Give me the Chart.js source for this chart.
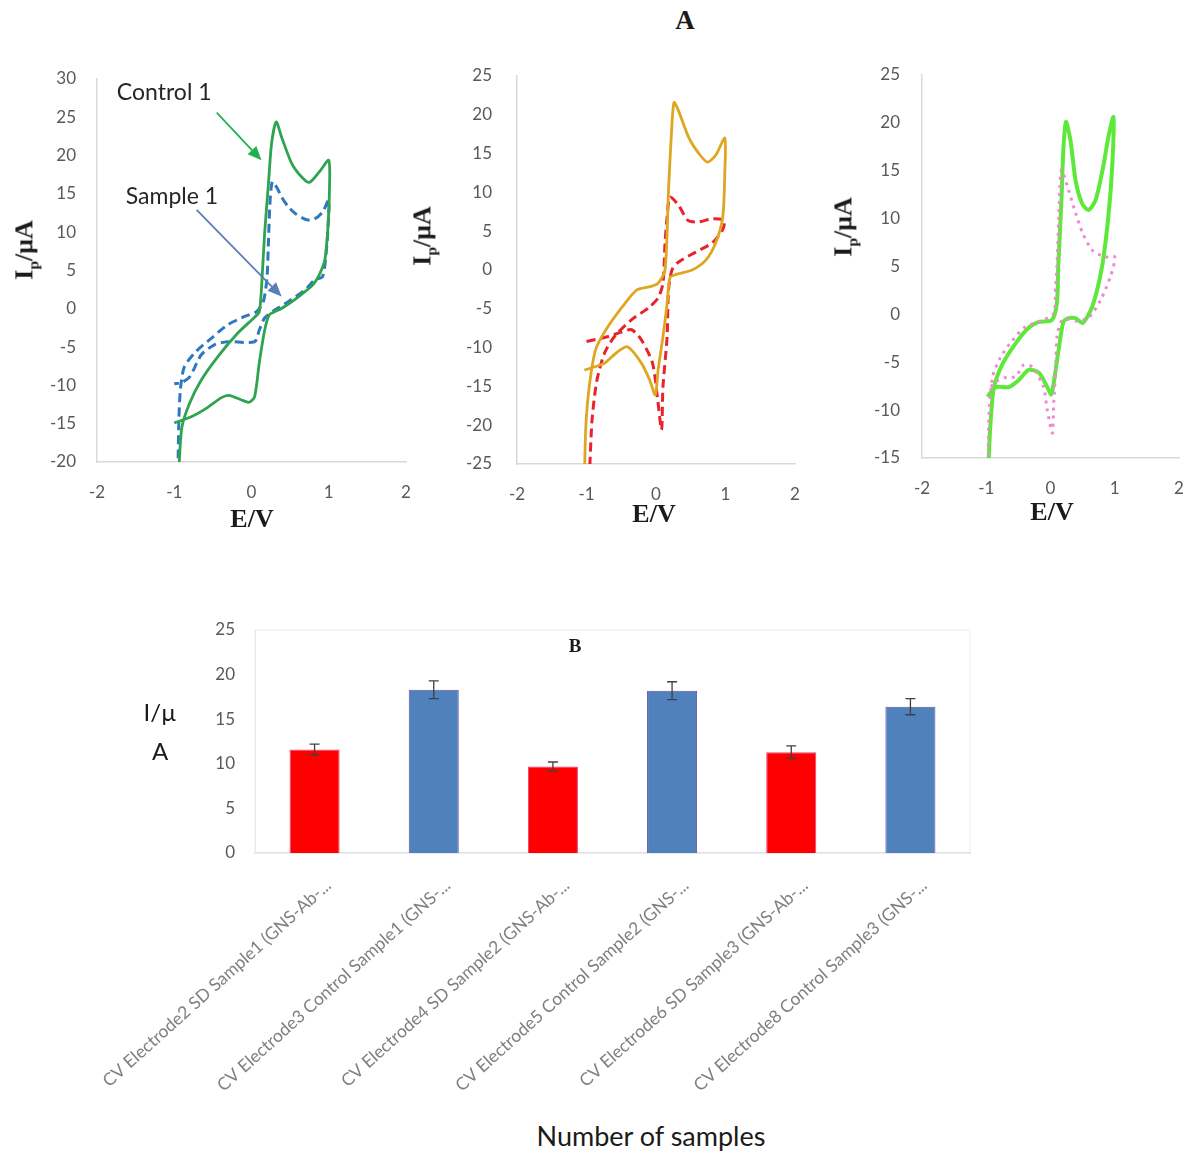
<!DOCTYPE html>
<html>
<head>
<meta charset="utf-8">
<script src="https://cdn.jsdelivr.net/npm/chart.js@4.4.1/dist/chart.umd.min.js"></script>
<style>
  body { margin: 0; background: #fff; width: 1193px; height: 1151px; position: relative; overflow: hidden; font-family: Lato, sans-serif; }
  canvas { position: absolute; }
  .lbl { position: absolute; transform: translate(-50%, -50%); white-space: nowrap; color: #1a1a1a; }
  .serif { font-family: "Liberation Serif", serif; font-weight: bold; }
  .rot { transform: translate(-50%, -50%) rotate(-90deg); }
  .rot sub { font-size: 60%; }
</style>
</head>
<body>

<canvas id="cv1" width="420" height="480" style="left:0;top:60px"></canvas>
<canvas id="cv2" width="400" height="480" style="left:420px;top:60px"></canvas>
<canvas id="cv3" width="373" height="480" style="left:820px;top:60px"></canvas>
<canvas id="bars" width="930" height="500" style="left:60px;top:610px"></canvas>

<div class="lbl serif" style="left:685px;top:20px;font-size:27px">A</div>

<div class="lbl serif rot" style="left:26px;top:250px;font-size:26px">I<sub>p</sub>/μA</div>
<div class="lbl serif rot" style="left:424px;top:236px;font-size:26px">I<sub>p</sub>/μA</div>
<div class="lbl serif rot" style="left:845px;top:227px;font-size:26px">I<sub>p</sub>/μA</div>

<div class="lbl serif" style="left:252px;top:519px;font-size:26px">E/V</div>
<div class="lbl serif" style="left:654px;top:514px;font-size:26px">E/V</div>
<div class="lbl serif" style="left:1052px;top:512px;font-size:26px">E/V</div>

<div class="lbl serif" style="left:575px;top:646px;font-size:19px">B</div>
<div class="lbl" style="left:160px;top:711px;font-size:24px">I/µ</div>
<div class="lbl" style="left:160px;top:750px;font-size:24px">A</div>
<div class="lbl" style="left:651px;top:1135px;font-size:27px">Number of samples</div>

<script>
// Cyclic voltammograms: potential E (V) and current I (µA), sweep order kept
const control1E = [-0.95, -0.935, -0.9, -0.8, -0.65, -0.44, -0.18, 0.04, 0.10, 0.13, 0.17, 0.22, 0.26, 0.32, 0.39, 0.52, 0.65, 0.75, 0.88, 1.0,
  1.01, 0.99, 0.95, 0.88, 0.8, 0.7, 0.56, 0.43, 0.34, 0.23, 0.17, 0.10, 0.04, -0.03, -0.13, -0.29, -0.39, -0.57, -0.78, -1.0];
const control1I = [-24, -20, -15.4, -12.3, -9.3, -6.3, -3.2, -1.1, -0.4, 2.8, 9.9, 16.4, 21.6, 24.4, 22.4, 19.0, 17.2, 16.5, 17.9, 19.4,
  15.9, 10.7, 6.4, 4.5, 3.2, 2.3, 1.2, 0.3, -0.2, -0.8, -2.8, -7.1, -11.5, -12.2, -11.9, -11.3, -11.6, -12.9, -14.1, -14.9];

const sample1E = [-0.955, -0.95, -0.94, -0.92, -0.87, -0.72, -0.52, -0.31, -0.09, 0.06, 0.15, 0.2, 0.22, 0.24, 0.27, 0.33, 0.39, 0.47, 0.56, 0.65, 0.73, 0.8, 0.86, 0.93, 1.0,
  0.99, 0.97, 0.92, 0.82, 0.69, 0.47, 0.3, 0.17, 0.10, 0.04, -0.31, -0.48, -0.65, -0.8, -0.9, -1.0];
const sample1I = [-25, -20, -14.5, -10.5, -7.6, -5.6, -3.85, -2.1, -1.0, -0.4, 0.8, 4, 9, 14, 16.6, 15.8, 14.6, 13.4, 12.5, 11.9, 11.6, 11.7, 12.0, 12.8, 14.2,
  10.5, 7.7, 4.2, 3.8, 2.45, 0.9, -0.16, -1.2, -2.8, -4.3, -4.3, -4.7, -6.0, -8.9, -9.6, -9.8];

const control2E = [-1.03, -1.01, -0.96, -0.87, -0.72, -0.48, -0.28, -0.09, 0.03, 0.13, 0.18, 0.23, 0.26, 0.32, 0.47, 0.61, 0.74, 0.86, 0.99,
  0.99, 0.96, 0.86, 0.72, 0.52, 0.28, 0.2, 0.16, 0.10, 0.03, -0.01, -0.09, -0.21, -0.41, -0.56, -0.74, -0.89, -1.03];
const control2I = [-27, -20.2, -15.0, -10.3, -7.7, -4.7, -2.6, -2.15, -1.7, 0.0, 10.3, 18.9, 21.6, 20.6, 17.1, 15.1, 13.9, 14.8, 17.0,
  12.5, 6.8, 3.5, 1.3, 0.0, -0.6, -1.0, -4.3, -8.6, -12.9, -16.1, -14.2, -12.0, -9.9, -10.6, -12.0, -12.5, -12.9];

const sample2E = [-0.96, -0.92, -0.85, -0.74, -0.6, -0.35, -0.11, 0.03, 0.1, 0.13, 0.16, 0.2, 0.32, 0.46, 0.61, 0.81, 0.98,
  0.96, 0.81, 0.57, 0.32, 0.23, 0.18, 0.16, 0.10, 0.08, 0.02, -0.05, -0.21, -0.35, -0.5, -0.7, -1.04];
const sample2I = [-27, -19.3, -14.2, -10.7, -8.6, -6.4, -4.9, -3.6, -1.7, 3.5, 6.8, 9.4, 8.4, 6.4, 6.2, 6.6, 6.4,
  5.2, 3.5, 2.3, 1.0, 0.0, -2.6, -8.6, -15.1, -20.6, -16.4, -12.0, -9.0, -7.7, -8.0, -8.6, -9.3];

const control3E = [-0.965, -0.96, -0.93, -0.88, -0.74, -0.54, -0.34, -0.19, 0.02, 0.1, 0.12, 0.17, 0.2, 0.24, 0.31, 0.39, 0.49, 0.59, 0.7, 0.82, 0.9, 0.98,
  0.96, 0.9, 0.8, 0.65, 0.5, 0.39, 0.28, 0.2, 0.12, 0.04, 0.01, -0.05, -0.18, -0.34, -0.5, -0.65, -0.85, -0.98];
const control3I = [-18, -15, -11.0, -7.6, -5.1, -3.0, -1.4, -0.8, -0.6, 1.2, 4.9, 11.9, 17.2, 20.1, 18.2, 14.0, 11.6, 10.9, 11.9, 15.4, 18.5, 20.6,
  15.4, 10.2, 4.9, 0.8, -0.9, -0.4, -0.4, -0.8, -4.0, -7.6, -8.4, -7.6, -6.1, -5.8, -6.9, -7.6, -7.6, -8.6];

const sample3E = [-0.97, -0.96, -0.9, -0.78, -0.59, -0.39, -0.12, 0.05, 0.08, 0.1, 0.13, 0.17, 0.28, 0.39, 0.5, 0.65, 0.85, 1.0,
  0.93, 0.78, 0.6, 0.4, 0.25, 0.16, 0.1, 0.08, 0.05, 0.03, -0.05, -0.11, -0.28, -0.42, -0.54, -0.7, -0.85, -0.93];
const sample3I = [-18, -11, -6.5, -4.5, -2.7, -1.3, -0.6, 0.1, 2.9, 4.9, 10.2, 15.1, 13.0, 10.6, 8.5, 6.7, 6.0, 6.0,
  3.9, 1.5, -0.3, -0.7, -0.5, -0.8, -2.4, -5.8, -9.3, -12.4, -10.0, -7.6, -5.5, -5.3, -6.5, -6.6, -7.0, -7.6];

// Peak currents (µA) with standard deviations
const sampleLabels = [
  'CV Electrode2 SD Sample1 (GNS-Ab-...',
  'CV Electrode3 Control Sample1 (GNS-...',
  'CV Electrode4 SD Sample2 (GNS-Ab-...',
  'CV Electrode5 Control Sample2 (GNS-...',
  'CV Electrode6 SD Sample3 (GNS-Ab-...',
  'CV Electrode8 Control Sample3 (GNS-...'
];
const peakCurrent = [11.6, 18.3, 9.7, 18.2, 11.3, 16.4];
const peakError = [0.6, 1.0, 0.5, 1.0, 0.7, 0.9];
const barColors = ['#ff0000', '#4f81bd', '#ff0000', '#4f81bd', '#ff0000', '#4f81bd'];
const barEdges = ['#e8407a', '#6650a8', '#e8407a', '#6650a8', '#e8407a', '#6650a8'];

const tickFont = { family: 'Lato', size: 17 };
const pts = (xs, ys) => xs.map((x, i) => ({ x: x, y: ys[i] }));

function trace(xs, ys, color, width, dash) {
  return {
    data: pts(xs, ys),
    showLine: true,
    borderColor: color,
    borderWidth: width,
    borderDash: dash || [],
    pointRadius: 0,
    fill: false
  };
}

// fixed axis boxes so the plot areas line up across the panels
function fixWidth(w) {
  return s => { s.width = w; s.paddingTop = 0; s.paddingBottom = 0; };
}
function fixHeight(h) {
  return s => { s.height = h; s.paddingLeft = 0; s.paddingRight = 0; };
}

// box: y-axis width, top/right padding, x-axis height, tick gap
function cvChart(id, sets, yMin, yMax, box, extra) {
  return new Chart(document.getElementById(id), {
    type: 'scatter',
    data: { datasets: sets },
    options: {
      responsive: false,
      animation: false,
      layout: { padding: { top: box.top, right: box.right, left: 0, bottom: 0 } },
      plugins: { legend: { display: false }, tooltip: { enabled: false } },
      elements: { line: { tension: 0.25 } },
      scales: {
        x: {
          min: -2, max: 2,
          ticks: { stepSize: 1, padding: 20, color: '#595959', font: tickFont },
          grid: { display: false, drawTicks: false },
          border: { color: '#d9d9d9', width: 1.5 },
          afterFit: fixHeight(box.bottom)
        },
        y: {
          min: yMin, max: yMax,
          ticks: { stepSize: 5, padding: box.gap, color: '#595959', font: tickFont },
          grid: { display: false, drawTicks: false },
          border: { color: '#d9d9d9', width: 1.5 },
          afterFit: fixWidth(box.left)
        }
      }
    },
    plugins: extra ? [extra] : []
  });
}

// Text callouts with arrows, placed in data units
const callouts = [
  { text: 'Control 1', at: [-1.13, 28.2], from: [-0.45, 25.6], to: [0.13, 19.4], color: '#22b14c' },
  { text: 'Sample 1', at: [-1.03, 14.7], from: [-0.71, 12.9], to: [0.39, 1.6], color: '#5b7db8' }
];

const calloutPlugin = {
  id: 'callouts',
  afterDatasetsDraw(chart) {
    const { ctx, scales: { x, y } } = chart;
    ctx.save();
    callouts.forEach(c => {
      ctx.font = '23px Lato';
      ctx.fillStyle = '#262626';
      ctx.textAlign = 'center';
      ctx.textBaseline = 'middle';
      ctx.fillText(c.text, x.getPixelForValue(c.at[0]), y.getPixelForValue(c.at[1]));

      const x0 = x.getPixelForValue(c.from[0]), y0 = y.getPixelForValue(c.from[1]);
      const x1 = x.getPixelForValue(c.to[0]), y1 = y.getPixelForValue(c.to[1]);
      const ang = Math.atan2(y1 - y0, x1 - x0);
      const head = 14, half = 6;
      ctx.strokeStyle = c.color;
      ctx.fillStyle = c.color;
      ctx.lineWidth = 1.8;
      ctx.beginPath();
      ctx.moveTo(x0, y0);
      ctx.lineTo(x1 - head * Math.cos(ang), y1 - head * Math.sin(ang));
      ctx.stroke();
      ctx.beginPath();
      ctx.moveTo(x1, y1);
      ctx.lineTo(x1 - head * Math.cos(ang) + half * Math.sin(ang), y1 - head * Math.sin(ang) - half * Math.cos(ang));
      ctx.lineTo(x1 - head * Math.cos(ang) - half * Math.sin(ang), y1 - head * Math.sin(ang) + half * Math.cos(ang));
      ctx.closePath();
      ctx.fill();
    });
    ctx.restore();
  }
};

cvChart('cv1', [
  trace(control1E, control1I, '#2ea44f', 2.8),
  trace(sample1E, sample1I, '#2e78c0', 3, [9, 5])
], -20, 30, { left: 97, top: 19, right: 14, bottom: 78, gap: 21 }, calloutPlugin);

cvChart('cv2', [
  trace(control2E, control2I, '#dfa621', 2.8),
  trace(sample2E, sample2I, '#e8232b', 3, [9, 5])
], -25, 25, { left: 97, top: 16, right: 25, bottom: 76, gap: 25 });

cvChart('cv3', [
  trace(sample3E, sample3I, '#ef8ad2', 3, [3, 5]),
  trace(control3E, control3I, '#5de83a', 4)
], -15, 25, { left: 102, top: 15, right: 14, bottom: 82, gap: 22 });

// Plot-area frame and error bars for the bar chart
const plotFrame = {
  id: 'plotFrame',
  beforeDatasetsDraw(chart) {
    const { ctx, chartArea: a } = chart;
    ctx.save();
    ctx.strokeStyle = '#ebebeb';
    ctx.lineWidth = 1;
    ctx.strokeRect(a.left, a.top, a.right - a.left, a.bottom - a.top);
    ctx.restore();
  }
};

const errorBars = {
  id: 'errorBars',
  afterDatasetsDraw(chart) {
    const { ctx } = chart;
    const yScale = chart.scales.y;
    const meta = chart.getDatasetMeta(0);
    ctx.save();
    ctx.strokeStyle = '#404040';
    ctx.lineWidth = 1.3;
    meta.data.forEach((bar, i) => {
      const top = yScale.getPixelForValue(peakCurrent[i] + peakError[i]);
      const bot = yScale.getPixelForValue(peakCurrent[i] - peakError[i]);
      ctx.beginPath();
      ctx.moveTo(bar.x, top); ctx.lineTo(bar.x, bot);
      ctx.moveTo(bar.x - 5, top); ctx.lineTo(bar.x + 5, top);
      ctx.moveTo(bar.x - 5, bot); ctx.lineTo(bar.x + 5, bot);
      ctx.stroke();
    });
    ctx.restore();
  }
};

new Chart(document.getElementById('bars'), {
  type: 'bar',
  data: {
    labels: sampleLabels,
    datasets: [{
      data: peakCurrent,
      backgroundColor: barColors,
      borderColor: barEdges,
      borderWidth: 1,
      barPercentage: 0.42,
      categoryPercentage: 1
    }]
  },
  options: {
    responsive: false,
    animation: false,
    layout: { padding: { top: 20, right: 20, left: 0, bottom: 0 } },
    plugins: { legend: { display: false }, tooltip: { enabled: false } },
    scales: {
      x: {
        grid: { display: false, drawTicks: false },
        border: { color: '#d9d9d9', width: 1.5 },
        ticks: { autoSkip: false, minRotation: 42, maxRotation: 42, padding: 22, labelOffset: 14, color: '#808080', font: { family: 'Lato', size: 17.5 } },
        afterFit: fixHeight(257)
      },
      y: {
        min: 0, max: 25,
        grid: { display: false, drawTicks: false },
        border: { color: '#ebebeb' },
        ticks: { stepSize: 5, padding: 20, color: '#595959', font: tickFont },
        afterFit: fixWidth(195)
      }
    }
  },
  plugins: [plotFrame, errorBars]
});
</script>
</body>
</html>
